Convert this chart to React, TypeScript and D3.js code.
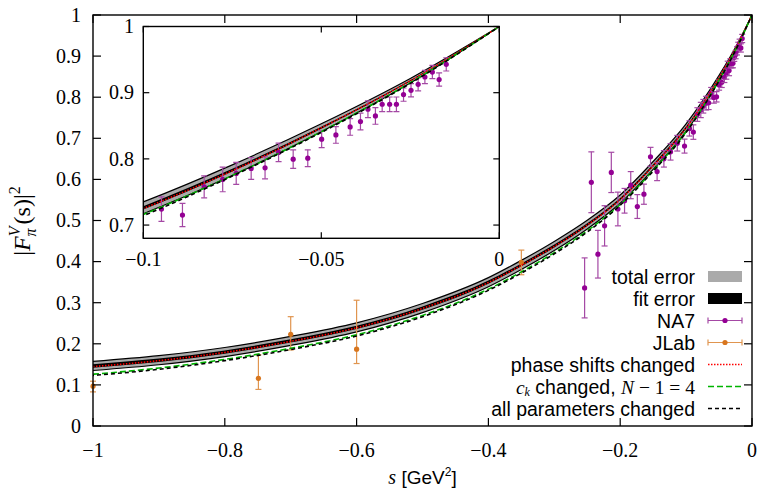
import React from "react";
import * as d3 from "d3";

// ---------- data ----------
const sGrid = [-1, -0.9, -0.8, -0.7, -0.6, -0.5, -0.4, -0.35, -0.3, -0.25, -0.2, -0.15, -0.1, -0.075, -0.05, -0.025, 0];
const central = [0.146, 0.160, 0.180, 0.207, 0.240, 0.287, 0.350, 0.392, 0.438, 0.490, 0.552, 0.634, 0.726, 0.783, 0.847, 0.918, 1.0];
const totalErr = [0.011, 0.011, 0.011, 0.011, 0.011, 0.011, 0.011, 0.011, 0.011, 0.0105, 0.010, 0.0095, 0.009, 0.008, 0.006, 0.0035, 0];
const fitErr = [0.004, 0.004, 0.004, 0.004, 0.004, 0.004, 0.0038, 0.0036, 0.0034, 0.0032, 0.003, 0.0028, 0.0025, 0.002, 0.0015, 0.0008, 0];
const phaseShifts = [0.1445, 0.159, 0.179, 0.206, 0.239, 0.286, 0.349, 0.391, 0.437, 0.489, 0.551, 0.633, 0.725, 0.782, 0.847, 0.918, 1.0];
const ckChanged = [0.126, 0.141, 0.162, 0.189, 0.222, 0.269, 0.333, 0.375, 0.422, 0.475, 0.539, 0.622, 0.716, 0.775, 0.841, 0.915, 1.0];
const allChanged = [0.123, 0.138, 0.159, 0.186, 0.219, 0.266, 0.330, 0.372, 0.419, 0.472, 0.537, 0.620, 0.714, 0.774, 0.840, 0.914, 1.0];

const na7S = [-0.254, -0.2438, -0.2338, -0.2237, -0.2135, -0.2035, -0.1934, -0.184, -0.174, -0.164, -0.154, -0.144, -0.1337, -0.1236, -0.1134, -0.1024,
  -0.0949, -0.089, -0.0829, -0.0777, -0.0739, -0.0697, -0.0658, -0.062, -0.0579, -0.0538, -0.0499, -0.0459, -0.0419, -0.039, -0.0369, -0.0348,
  -0.0329, -0.0308, -0.0289, -0.0269, -0.0248, -0.0228, -0.0209, -0.0188, -0.0169, -0.0149];
const na7V = [0.336, 0.593, 0.418, 0.487, 0.617, 0.528, 0.548, 0.586, 0.534, 0.564, 0.655, 0.619, 0.650, 0.667, 0.688, 0.681,
  0.7241, 0.7151, 0.7578, 0.7689, 0.778, 0.7855, 0.7865, 0.8097, 0.7995, 0.801, 0.8297, 0.8362, 0.8483, 0.8564, 0.875, 0.8649,
  0.8825, 0.8825, 0.8825, 0.8971, 0.9036, 0.9127, 0.9237, 0.9312, 0.9198, 0.9428];
const na7E = [0.073, 0.074, 0.058, 0.049, 0.049, 0.041, 0.030, 0.033, 0.029, 0.0245, 0.023, 0.022, 0.020, 0.020, 0.019, 0.017,
  0.0186, 0.0176, 0.0166, 0.0186, 0.0166, 0.0166, 0.0166, 0.014, 0.014, 0.0126, 0.0126, 0.0126, 0.0126, 0.0126, 0.0126, 0.0126,
  0.011, 0.011, 0.011, 0.010, 0.010, 0.010, 0.010, 0.010, 0.010, 0.010];

const jlabS = [-1.0, -0.749, -0.7, -0.6, -0.35];
const jlabV = [0.097, 0.116, 0.223, 0.187, 0.398];
const jlabUp = [0.012, 0.057, 0.043, 0.119, 0.030];
const jlabDn = [0.014, 0.027, 0.038, 0.035, 0.030];

const mainXTicks = [-1, -0.8, -0.6, -0.4, -0.2, 0];
const mainXLabels = ["\u22121", "\u22120.8", "\u22120.6", "\u22120.4", "\u22120.2", "0"];
const mainYTicks = [0, 0.1, 0.2, 0.3, 0.4, 0.5, 0.6, 0.7, 0.8, 0.9, 1];
const mainYLabels = ["0", "0.1", "0.2", "0.3", "0.4", "0.5", "0.6", "0.7", "0.8", "0.9", "1"];
const insetXTicks = [-0.1, -0.05, 0];
const insetXLabels = ["\u22120.1", "\u22120.05", "0"];
const insetYTicks = [0.7, 0.8, 0.9, 1];
const insetYLabels = ["0.7", "0.8", "0.9", "1"];

// ---------- styles ----------
const SERIF = "'Liberation Serif', 'DejaVu Serif', serif";
const SANS = "'Liberation Sans', Arial, sans-serif";
const NA7_COL = "#940094";
const NA7_BAR = "#a448a4";
const JLAB_COL = "#d8761e";
const JLAB_BAR = "#e0954f";
const GREEN = "#00b400";

type Sc = d3.ScaleLinear<number, number>;

const grid = sGrid.map((s, i) => ({ s, c: central[i], t: totalErr[i], f: fitErr[i], p: phaseShifts[i], k: ckChanged[i], a: allChanged[i] }));
const na7 = na7S.map((s, i) => ({ s, v: na7V[i], up: na7E[i], dn: na7E[i] }));
const jlab = jlabS.map((s, i) => ({ s, v: jlabV[i], up: jlabUp[i], dn: jlabDn[i] }));

function Curves({ xs, ys, clip }: { xs: Sc; ys: Sc; clip: string }) {
  const curve = d3.curveMonotoneX;
  const totalArea = d3.area<any>().x(d => xs(d.s)).y0(d => ys(d.c - d.t)).y1(d => ys(d.c + d.t)).curve(curve);
  const totTop = d3.line<any>().x(d => xs(d.s)).y(d => ys(d.c + d.t)).curve(curve);
  const totBot = d3.line<any>().x(d => xs(d.s)).y(d => ys(d.c - d.t)).curve(curve);
  const fitArea = d3.area<any>().x(d => xs(d.s)).y0(d => ys(d.c - d.f)).y1(d => ys(d.c + d.f)).curve(curve);
  return (
    <g clipPath={`url(#${clip})`}>
      <path d={totalArea(grid) || ""} fill="#aaaaaa" />
      <path d={totTop(grid) || ""} fill="none" stroke="#000" strokeWidth={1.2} />
      <path d={totBot(grid) || ""} fill="none" stroke="#000" strokeWidth={1.2} />
      <path d={fitArea(grid) || ""} fill="#000" />
    </g>
  );
}

function Lines({ xs, ys, clip }: { xs: Sc; ys: Sc; clip: string }) {
  const curve = d3.curveMonotoneX;
  const mk = (key: string) => d3.line<any>().x(d => xs(d.s)).y(d => ys(d[key])).curve(curve)(grid) || "";
  return (
    <g clipPath={`url(#${clip})`} fill="none">
      <path d={mk("p")} stroke="#ff0000" strokeWidth={1.6} strokeDasharray="1.5,1.5" />
      <path d={mk("k")} stroke={GREEN} strokeWidth={1.6} strokeDasharray="6,3" />
      <path d={mk("a")} stroke="#000" strokeWidth={1.6} strokeDasharray="4,3" strokeDashoffset={3} />
    </g>
  );
}

function Points({ xs, ys, data, col, bar, clip }: { xs: Sc; ys: Sc; data: any[]; col: string; bar: string; clip?: string }) {
  return (
    <g clipPath={clip ? `url(#${clip})` : undefined}>
      {data.map((d, i) => {
        const px = xs(d.s);
        const y0 = ys(d.v - d.dn);
        const y1 = ys(d.v + d.up);
        return (
          <g key={i}>
            <line x1={px} x2={px} y1={y0} y2={y1} stroke={bar} strokeWidth={1.2} />
            <line x1={px - 3} x2={px + 3} y1={y0} y2={y0} stroke={bar} strokeWidth={1.2} />
            <line x1={px - 3} x2={px + 3} y1={y1} y2={y1} stroke={bar} strokeWidth={1.2} />
            <circle cx={px} cy={ys(d.v)} r={2.6} fill={col} />
          </g>
        );
      })}
    </g>
  );
}

function Frame({ xs, ys, xt, yt, tl }: { xs: Sc; ys: Sc; xt: number[]; yt: number[]; tl: number }) {
  const [x0, x1] = xs.range();
  const [y0, y1] = ys.range();
  return (
    <g stroke="#000" strokeWidth={1.2}>
      {xt.map((t, i) => (
        <g key={"x" + i}>
          <line x1={xs(t)} x2={xs(t)} y1={y0} y2={y0 - tl} />
          <line x1={xs(t)} x2={xs(t)} y1={y1} y2={y1 + tl} />
        </g>
      ))}
      {yt.map((t, i) => (
        <g key={"y" + i}>
          <line x1={x0} x2={x0 + tl} y1={ys(t)} y2={ys(t)} />
          <line x1={x1} x2={x1 - tl} y1={ys(t)} y2={ys(t)} />
        </g>
      ))}
      <rect x={x0} y={y1} width={x1 - x0} height={y0 - y1} fill="none" strokeWidth={1.4} />
    </g>
  );
}

export default function App() {
  const W = 758, H = 491;
  const x = d3.scaleLinear().domain([-1, 0]).range([93, 752]);
  const y = d3.scaleLinear().domain([0, 1]).range([426, 15]);
  const xi = d3.scaleLinear().domain([-0.1, 0]).range([143.3, 499.3]);
  const yi = d3.scaleLinear().domain([0.68, 1]).range([238.3, 26.5]);

  const legendX = 695;
  const symX0 = 708, symX1 = 742;
  const legY = [276.5, 298.5, 320.5, 342.5, 364.5, 386.5, 408.5];
  const legFont = 19.5;

  return (
    <svg width={W} height={H} style={{ position: "absolute", left: 0, top: 0, background: "#fff" }}>
      <defs>
        <clipPath id="mainClip"><rect x={93} y={15} width={659} height={411} /></clipPath>
        <clipPath id="insetClip"><rect x={143.3} y={26.5} width={356} height={211.8} /></clipPath>
      </defs>
      <rect x={0} y={0} width={W} height={H} fill="#fff" />

      {/* main plot */}
      <Curves xs={x} ys={y} clip="mainClip" />
      <Points xs={x} ys={y} data={na7} col={NA7_COL} bar={NA7_BAR} />
      <Points xs={x} ys={y} data={jlab} col={JLAB_COL} bar={JLAB_BAR} />
      <Lines xs={x} ys={y} clip="mainClip" />
      <Frame xs={x} ys={y} xt={mainXTicks} yt={mainYTicks} tl={8} />

      {/* main tick labels */}
      <g fontFamily={SERIF} fontSize={20} fill="#000">
        {mainXTicks.map((t, i) => (
          <text key={i} x={x(t)} y={457} textAnchor="middle">{mainXLabels[i]}</text>
        ))}
        {mainYTicks.map((t, i) => (
          <text key={i} x={81} y={y(t)} dy="0.34em" textAnchor="end">{mainYLabels[i]}</text>
        ))}
      </g>

      {/* axis titles */}
      <text x={422.5} y={484} textAnchor="middle" fontSize={20}>
        <tspan fontFamily={SERIF} fontStyle="italic">s</tspan>
        <tspan fontFamily={SANS} fontSize={19}> [GeV</tspan>
        <tspan fontFamily={SANS} fontSize={12} dy={-8}>2</tspan>
        <tspan fontFamily={SANS} fontSize={19} dy={8}>]</tspan>
      </text>
      <g transform="translate(30,221) rotate(-90)">
        <text x={0} y={0} textAnchor="middle" fontFamily={SERIF} fontSize={24}>
          <tspan>|</tspan>
          <tspan fontStyle="italic">F</tspan>
          <tspan fontStyle="italic" fontSize={16} dy={-10}>V</tspan>
          <tspan fontStyle="italic" fontSize={16} dx={-10} dy={16}>π</tspan>
          <tspan dx={4} dy={-6}>(s)|</tspan>
          <tspan fontSize={16} dy={-10}>2</tspan>
        </text>
      </g>

      {/* inset */}
      <rect x={143.3} y={26.5} width={356} height={211.8} fill="#fff" />
      <Curves xs={xi} ys={yi} clip="insetClip" />
      <Points xs={xi} ys={yi} data={na7} col={NA7_COL} bar={NA7_BAR} clip="insetClip" />
      <Lines xs={xi} ys={yi} clip="insetClip" />
      <Frame xs={xi} ys={yi} xt={insetXTicks} yt={insetYTicks} tl={6} />
      <g fontFamily={SERIF} fontSize={20} fill="#000">
        {insetXTicks.map((t, i) => (
          <text key={i} x={xi(t)} y={266} textAnchor="middle">{insetXLabels[i]}</text>
        ))}
        {insetYTicks.map((t, i) => (
          <text key={i} x={134} y={yi(t)} dy="0.34em" textAnchor="end">{insetYLabels[i]}</text>
        ))}
      </g>

      {/* legend */}
      <g fontFamily={SANS} fontSize={legFont} fill="#000">
        <text x={legendX} y={legY[0]} dy="0.36em" textAnchor="end">total error</text>
        <rect x={symX0} y={legY[0] - 5.5} width={symX1 - symX0} height={11} fill="#aaaaaa" />
        <text x={legendX} y={legY[1]} dy="0.36em" textAnchor="end">fit error</text>
        <rect x={symX0} y={legY[1] - 5.5} width={symX1 - symX0} height={11} fill="#000" />

        <text x={legendX} y={legY[2]} dy="0.36em" textAnchor="end">NA7</text>
        <g stroke={NA7_BAR} strokeWidth={1.2}>
          <line x1={symX0} x2={symX1} y1={legY[2]} y2={legY[2]} />
          <line x1={symX0} x2={symX0} y1={legY[2] - 3} y2={legY[2] + 3} />
          <line x1={symX1} x2={symX1} y1={legY[2] - 3} y2={legY[2] + 3} />
        </g>
        <circle cx={(symX0 + symX1) / 2} cy={legY[2]} r={2.6} fill={NA7_COL} />

        <text x={legendX} y={legY[3]} dy="0.36em" textAnchor="end">JLab</text>
        <g stroke={JLAB_BAR} strokeWidth={1.2}>
          <line x1={symX0} x2={symX1} y1={legY[3]} y2={legY[3]} />
          <line x1={symX0} x2={symX0} y1={legY[3] - 3} y2={legY[3] + 3} />
          <line x1={symX1} x2={symX1} y1={legY[3] - 3} y2={legY[3] + 3} />
        </g>
        <circle cx={(symX0 + symX1) / 2} cy={legY[3]} r={2.6} fill={JLAB_COL} />

        <text x={legendX} y={legY[4]} dy="0.36em" textAnchor="end">phase shifts changed</text>
        <line x1={symX0} x2={symX1} y1={legY[4]} y2={legY[4]} stroke="#ff0000" strokeWidth={1.6} strokeDasharray="1.5,1.5" />

        <text x={legendX} y={legY[5]} dy="0.36em" textAnchor="end">
          <tspan fontFamily={SERIF} fontStyle="italic" fontSize={19.5}>c</tspan>
          <tspan fontFamily={SERIF} fontStyle="italic" fontSize={12} dy={2}>k</tspan>
          <tspan dy={-2}> changed, </tspan>
          <tspan fontFamily={SERIF} fontStyle="italic" fontSize={19.5}>N</tspan>
          <tspan fontFamily={SERIF} fontSize={19.5}> − 1 = 4</tspan>
        </text>
        <line x1={symX0} x2={symX1} y1={legY[5]} y2={legY[5]} stroke={GREEN} strokeWidth={1.6} strokeDasharray="6,3" />

        <text x={legendX} y={legY[6]} dy="0.36em" textAnchor="end">all parameters changed</text>
        <line x1={symX0} x2={symX1} y1={legY[6]} y2={legY[6]} stroke="#000" strokeWidth={1.6} strokeDasharray="4,3" />
      </g>
    </svg>
  );
}
